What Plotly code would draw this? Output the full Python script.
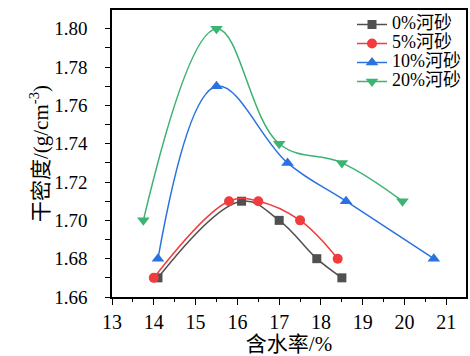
import plotly.graph_objects as go

# Data
names = ["0%河砂", "5%河砂", "10%河砂", "20%河砂"]
x0 = [14.1, 16.1, 17.0, 17.9, 18.5]
y0 = [1.67, 1.71, 1.70, 1.68, 1.67]
x5 = [14.0, 15.8, 16.5, 17.5, 18.4]
y5 = [1.67, 1.71, 1.71, 1.70, 1.68]
x10 = [14.1, 15.5, 17.2, 18.6, 20.7]
y10 = [1.68, 1.77, 1.73, 1.71, 1.68]
x20 = [13.75, 15.5, 17.0, 18.5, 19.95]
y20 = [1.70, 1.80, 1.74, 1.73, 1.71]
yticks = [1.66, 1.68, 1.70, 1.72, 1.74, 1.76, 1.78, 1.80]
ytick_labels = ["1.66", "1.68", "1.70", "1.72", "1.74", "1.76", "1.78", "1.80"]
xticks = [13, 14, 15, 16, 17, 18, 19, 20, 21]

xs = [x0, x5, x10, x20]
ys = [y0, y5, y10, y20]
colors = ["#505050", "#f03c3c", "#2a72e0", "#3cb371"]
symbols = ["square", "circle", "triangle-up", "triangle-down"]
msizes = [9, 10, 11, 11]

FONT = "Times New Roman, Liberation Serif, Noto Sans CJK SC, serif"

fig = go.Figure()
for n, x, y, c, s, ms in zip(names, xs, ys, colors, symbols, msizes):
    fig.add_trace(go.Scatter(
        x=x, y=y, mode="lines+markers", name=f"<span style='font-size:18px'>{n}</span>",
        line=dict(color=c, width=1.5, shape="spline", smoothing=1.1),
        marker=dict(color=c, symbol=s, size=ms),
    ))

fig.update_layout(
    width=470, height=356,
    margin=dict(l=112, r=2, t=10, b=59),
    plot_bgcolor="white", paper_bgcolor="white",
    font=dict(family=FONT, color="black", size=20),
    showlegend=True,
    legend=dict(x=1, xanchor="right", y=1, yanchor="top",
                bgcolor="rgba(0,0,0,0)", borderwidth=0,
                font=dict(family=FONT, size=12, color="black"),
                itemwidth=30, tracegroupgap=0),
    xaxis=dict(range=[13, 21.47], tickvals=xticks,
               showgrid=False, zeroline=False,
               showline=True, linecolor="black", linewidth=1.5, mirror=True,
               ticks="outside", ticklen=6, tickwidth=1.2, tickcolor="black",
               minor=dict(dtick=0.5, ticks="outside", ticklen=3, tickwidth=1.2, tickcolor="black", showgrid=False),
               tickfont=dict(family=FONT, size=20),
               title=dict(text="含水率/%", font=dict(family=FONT, size=21), standoff=6)),
    yaxis=dict(range=[1.66, 1.8098], tickvals=yticks, ticktext=ytick_labels,
               showgrid=False, zeroline=False,
               showline=True, linecolor="black", linewidth=1.5, mirror=True,
               ticks="outside", ticklen=5, tickwidth=1.2, tickcolor="black",
               ticklabelstandoff=14,
               minor=dict(dtick=0.01, ticks="outside", ticklen=5, tickwidth=1.2, tickcolor="black", showgrid=False),
               tickfont=dict(family=FONT, size=19),
               title=dict(text="干密度/(g/cm<sup>-3</sup>)", font=dict(family=FONT, size=21), standoff=0)),
)

fig.write_html("out.html")
